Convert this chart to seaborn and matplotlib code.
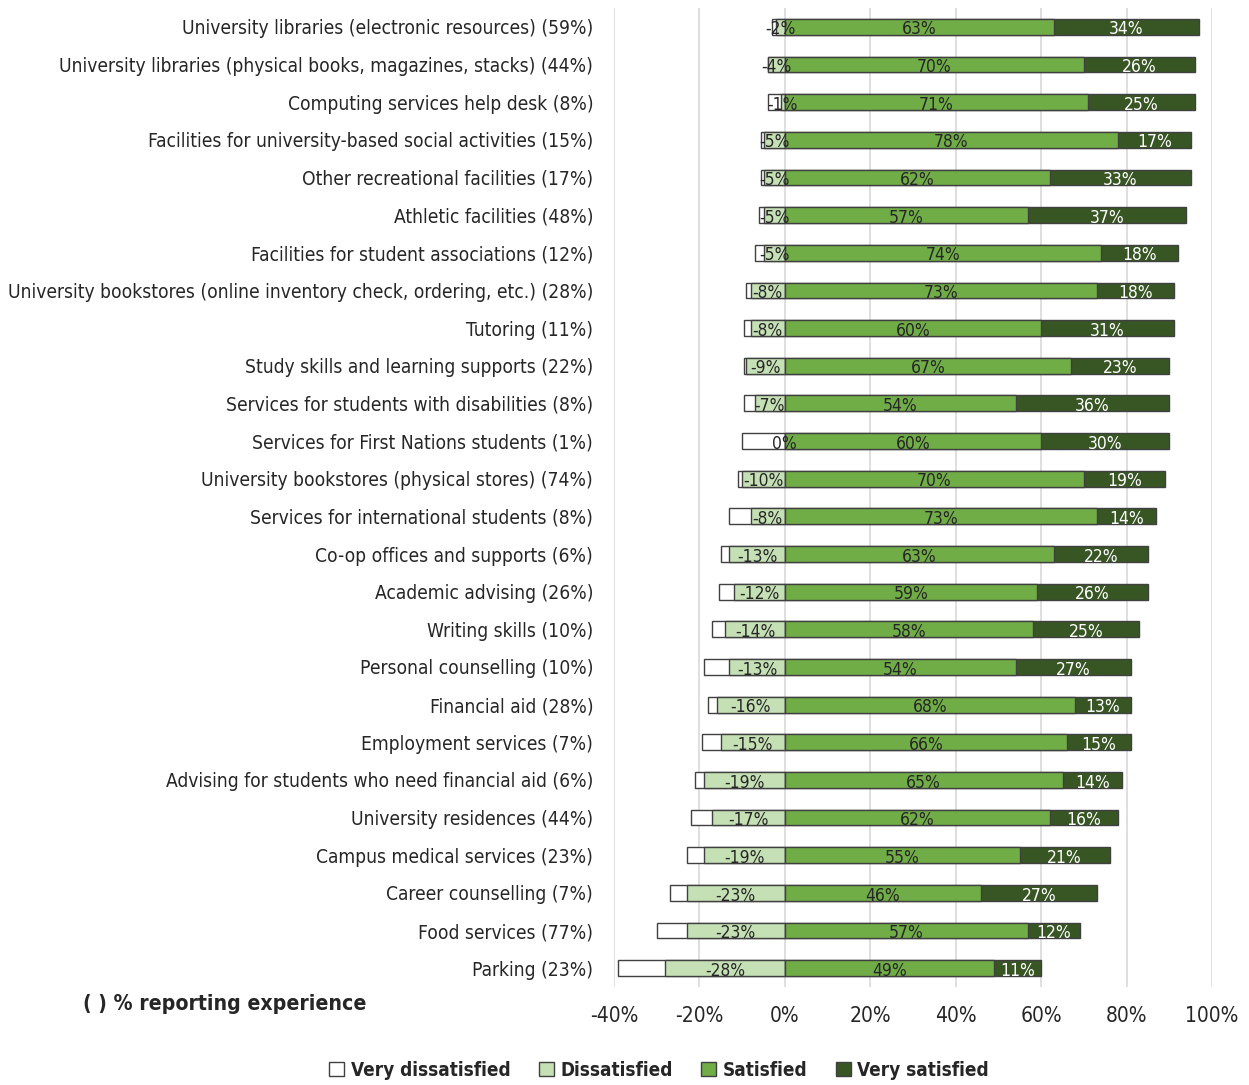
import pandas as pd
import seaborn as sns
import matplotlib.pyplot as plt
from matplotlib.patches import Patch

# Services and share of students reporting experience
services = [
    "University libraries (electronic resources) (59%)",
    "University libraries (physical books, magazines, stacks) (44%)",
    "Computing services help desk (8%)",
    "Facilities for university-based social activities (15%)",
    "Other recreational facilities (17%)",
    "Athletic facilities (48%)",
    "Facilities for student associations (12%)",
    "University bookstores (online inventory check, ordering, etc.) (28%)",
    "Tutoring (11%)",
    "Study skills and learning supports (22%)",
    "Services for students with disabilities (8%)",
    "Services for First Nations students (1%)",
    "University bookstores (physical stores) (74%)",
    "Services for international students (8%)",
    "Co-op offices and supports (6%)",
    "Academic advising (26%)",
    "Writing skills (10%)",
    "Personal counselling (10%)",
    "Financial aid (28%)",
    "Employment services (7%)",
    "Advising for students who need financial aid (6%)",
    "University residences (44%)",
    "Campus medical services (23%)",
    "Career counselling (7%)",
    "Food services (77%)",
    "Parking (23%)",
]
very_dissatisfied = [1, 0, 3, 0.5, 0.5, 1, 2, 1, 1.5, 0.5, 2.5, 10, 1,
                     5, 2, 3.5, 3, 6, 2, 4.5, 2, 5, 4, 4, 7, 11]
dissatisfied = [2, 4, 1, 5, 5, 5, 5, 8, 8, 9, 7, 0, 10,
                8, 13, 12, 14, 13, 16, 15, 19, 17, 19, 23, 23, 28]
satisfied = [63, 70, 71, 78, 62, 57, 74, 73, 60, 67, 54, 60, 70,
             73, 63, 59, 58, 54, 68, 66, 65, 62, 55, 46, 57, 49]
very_satisfied = [34, 26, 25, 17, 33, 37, 18, 18, 31, 23, 36, 30, 19,
                  14, 22, 26, 25, 27, 13, 15, 14, 16, 21, 27, 12, 11]

xticks = [-40, -20, 0, 20, 40, 60, 80, 100]

c_vd = "#FFFFFF"
c_d = "#C5E0B4"
c_s = "#70AD47"
c_vs = "#375623"
edge = "#404040"

df = pd.DataFrame({
    "service": services,
    "vd": very_dissatisfied,
    "d": dissatisfied,
    "s": satisfied,
    "vs": very_satisfied,
})
df["neg_total"] = -(df["vd"] + df["d"])
df["neg_d"] = -df["d"]
df["pos_total"] = df["s"] + df["vs"]

sns.set_style("white")
plt.rcParams["font.family"] = ["DejaVu Sans"]
plt.rcParams["font.stretch"] = "condensed"

fig = plt.figure(figsize=(12.49, 10.85), dpi=100)
ax = fig.add_axes([0.4916, 0.0903, 0.4788, 0.9023])

bw = 0.42
kw = dict(y="service", orient="h", order=services, width=bw, saturation=1,
          edgecolor=edge, linewidth=1.0, ax=ax, zorder=3)
# stacked look: draw totals first, inner segments over them
sns.barplot(data=df, x="neg_total", color=c_vd, **kw)
sns.barplot(data=df, x="neg_d", color=c_d, **kw)
sns.barplot(data=df, x="pos_total", color=c_vs, **kw)
sns.barplot(data=df, x="s", color=c_s, **kw)

ax.set_xlim(-40, 100)
ax.set_ylim(len(services) - 0.5, -0.5)
ax.set_xticks(xticks)
ax.set_xticklabels([f"{t}%" for t in xticks])
ax.grid(axis="x", color="#D9D9D9", linewidth=1.2, zorder=0)
ax.grid(axis="y", visible=False)
for sp in ax.spines.values():
    sp.set_visible(False)
ax.set_xlabel("")
ax.set_ylabel("")
ax.tick_params(axis="x", length=0, pad=14, labelsize=15, labelcolor="#262626")
ax.tick_params(axis="y", length=0, pad=15, labelsize=13.8, labelcolor="#262626")

for i, row in df.iterrows():
    yy = i + 0.07
    d_txt = f"-{row['d']}%" if row["d"] > 0 else "0%"
    ax.text(-row["d"] / 2, yy, d_txt, ha="center", va="center",
            fontsize=12.5, color="#262626", zorder=4)
    ax.text(row["s"] / 2, yy, f"{row['s']}%", ha="center", va="center",
            fontsize=12.5, color="#262626", zorder=4)
    ax.text(row["s"] + row["vs"] / 2, yy, f"{row['vs']}%", ha="center", va="center",
            fontsize=12.5, color="white", zorder=4)

fig.text(83 / 1249, 1 - 1004 / 1085, "( ) % reporting experience",
         fontsize=15.2, fontweight="bold", ha="left", va="center", color="#262626")

handles = [Patch(facecolor=c, edgecolor=edge, linewidth=1.0) for c in (c_vd, c_d, c_s, c_vs)]
fig.legend(handles, ["Very dissatisfied", "Dissatisfied", "Satisfied", "Very satisfied"],
           loc="center", bbox_to_anchor=(659 / 1249, 1 - 1070 / 1085), ncol=4,
           frameon=False, prop={"weight": "bold", "size": 13.6, "stretch": "condensed"},
           handlelength=0.8, handleheight=0.8, handletextpad=0.35, columnspacing=1.5)

fig.savefig("out.png", dpi=100)
